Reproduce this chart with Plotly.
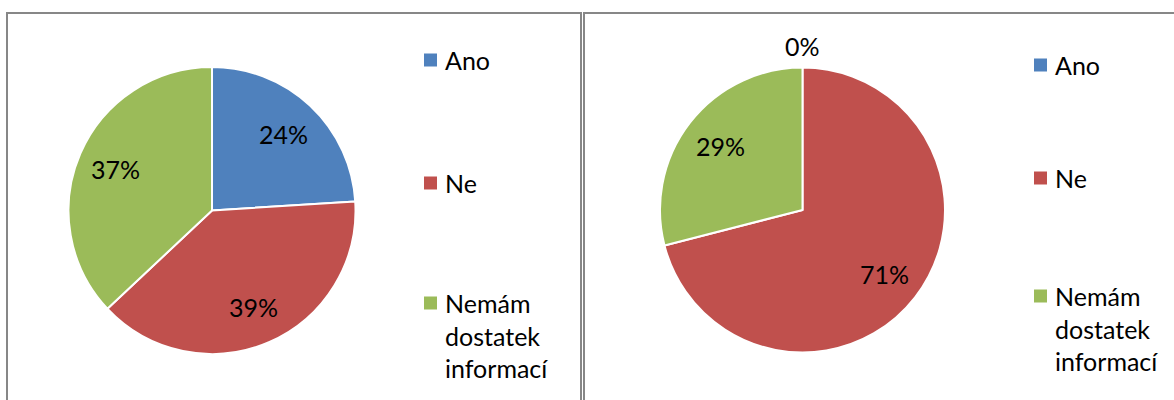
import plotly.graph_objects as go
import math

labels = ["Ano", "Ne", "Nemám dostatek informací"]
legend_text = ["Ano", "Ne", "Nemám<br>dostatek<br>informací"]
colors = ["#4F81BD", "#C0504D", "#9BBB59"]
values_left = [24, 39, 37]
values_right = [0, 71, 29]

W, H = 1174, 400
FONT = "Lato"
FS = 25

fig = go.Figure()

pies = [
    dict(values=values_left, cx=212, cy=210.5, r=143.5),
    dict(values=values_right, cx=802.5, cy=210, r=142.5),
]

annotations = []
for p in pies:
    x0 = (p["cx"] - p["r"]) / W
    x1 = (p["cx"] + p["r"]) / W
    y0 = (H - p["cy"] - p["r"]) / H
    y1 = (H - p["cy"] + p["r"]) / H
    fig.add_trace(go.Pie(
        labels=labels, values=p["values"], sort=False, direction="clockwise", rotation=0,
        marker=dict(colors=colors, line=dict(color="white", width=2)),
        textinfo="none",
        domain=dict(x=[x0, x1], y=[y0, y1]), showlegend=False, hoverinfo="label+percent",
    ))
    # data labels placed the way the original chart does (inside at ~0.73 r, zero slices outside)
    total = sum(p["values"])
    cum = 0
    for v in p["values"]:
        mid = cum + v / 2
        ang = math.radians(90 - 360 * mid / total)
        rr = p["r"] + 22 if v == 0 else p["r"] * 0.73
        annotations.append(dict(
            x=(p["cx"] + rr * math.cos(ang)) / W, y=(H - p["cy"] + rr * math.sin(ang)) / H,
            xref="paper", yref="paper", text=f"{round(100 * v / total)}%", showarrow=False,
            font=dict(family=FONT, size=FS, color="black"), xanchor="center", yanchor="middle"))
        cum += v

# legends (drawn manually so the item spacing matches)
legends = [
    dict(x=424, ys=[60, 183, 303]),
    dict(x=1034, ys=[65, 178, 296]),
]
shapes = []
for lg in legends:
    for txt, col, yc in zip(legend_text, colors, lg["ys"]):
        shapes.append(dict(type="rect", xref="paper", yref="paper",
                           x0=lg["x"] / W, x1=(lg["x"] + 13) / W,
                           y0=(H - yc - 6.5) / H, y1=(H - yc + 6.5) / H,
                           fillcolor=col, line=dict(width=0)))
        annotations.append(dict(x=(lg["x"] + 19) / W, y=(H - yc + 17) / H, xref="paper", yref="paper",
                                text=txt, showarrow=False, align="left",
                                xanchor="left", yanchor="top",
                                font=dict(family=FONT, size=FS, color="black")))

# panel borders
for x0, x1 in [(7, 581), (584, 1180)]:
    shapes.append(dict(type="rect", xref="paper", yref="paper",
                       x0=x0 / W, x1=x1 / W, y0=-0.05, y1=(H - 13) / H,
                       line=dict(color="#878787", width=2), fillcolor="rgba(0,0,0,0)"))

fig.update_layout(
    width=W, height=H, margin=dict(l=0, r=0, t=0, b=0),
    paper_bgcolor="white", plot_bgcolor="white",
    shapes=shapes, annotations=annotations,
    font=dict(family=FONT),
)
fig.write_html("out.html", config={"displayModeBar": False},
               post_script="document.body.style.margin='0';document.body.style.overflow='hidden';")
